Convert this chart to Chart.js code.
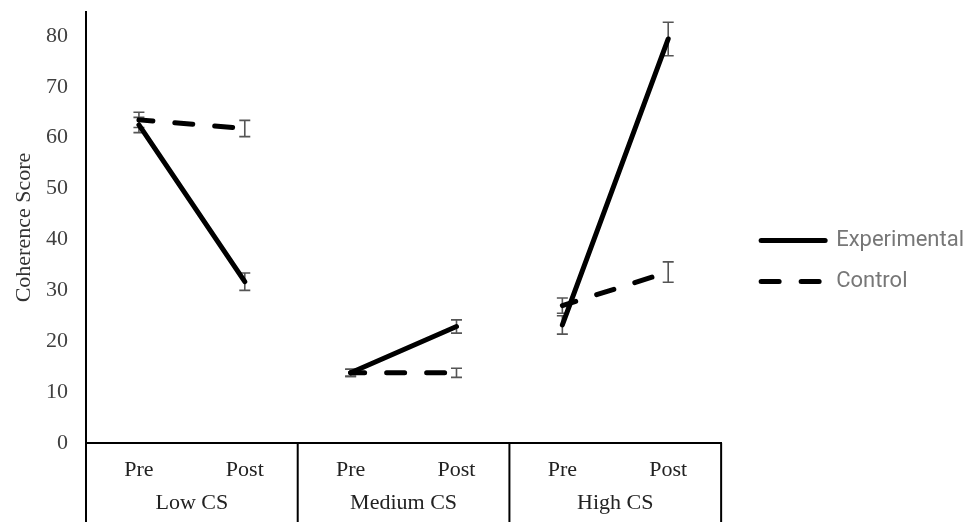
<!DOCTYPE html>
<html>
<head>
<meta charset="utf-8">
<script src="https://cdn.jsdelivr.net/npm/chart.js@4/dist/chart.umd.min.js"></script>
<style>
  html, body { margin: 0; padding: 0; background: #fff; }
  #wrap { width: 976px; height: 522px; }
</style>
</head>
<body>
<div id="wrap"><canvas id="c"></canvas></div>
<script>
// categories
const phases = ["Pre", "Post", "Pre", "Post", "Pre", "Post"];
const groups = ["Low CS", "Medium CS", "High CS"];

// series values
const experimental = [62.5, 31.7, 13.8, 22.9, 23.2, 79.4];
const experimentalErr = [1.5, 1.7, 0.7, 1.3, 1.8, 3.3];
const control = [63.5, 61.8, 13.8, 13.8, 27.0, 33.6];
const controlErr = [1.5, 1.6, 0.7, 0.9, 1.5, 2.0];

// y tick values
const yTicks = [0, 10, 20, 30, 40, 50, 60, 70, 80];

const serif = "'Liberation Serif', 'DejaVu Serif', serif";

// hide the segment that would join two CS groups
const gap = ctx => ctx.p0DataIndex % 2 === 1 ? "rgba(0,0,0,0)" : undefined;

const errorBars = {
  id: "errorBars",
  beforeDatasetsDraw(chart) {
    const { ctx } = chart;
    const x = chart.scales.x, y = chart.scales.y;
    const sets = [[experimental, experimentalErr], [control, controlErr]];
    ctx.save();
    ctx.strokeStyle = "#555";
    ctx.lineWidth = 1.6;
    sets.forEach(([vals, errs]) => {
      vals.forEach((v, i) => {
        const px = x.getPixelForValue(i);
        const top = y.getPixelForValue(v + errs[i]);
        const bot = y.getPixelForValue(v - errs[i]);
        ctx.beginPath();
        ctx.moveTo(px, top); ctx.lineTo(px, bot);
        ctx.moveTo(px - 5.5, top); ctx.lineTo(px + 5.5, top);
        ctx.moveTo(px - 5.5, bot); ctx.lineTo(px + 5.5, bot);
        ctx.stroke();
      });
    });
    ctx.restore();
  }
};

const groupDividers = {
  id: "groupDividers",
  afterDraw(chart) {
    const { ctx, chartArea } = chart;
    const x = chart.scales.x;
    const edges = [x.left];
    for (let g = 1; g < groups.length; g++) {
      edges.push((x.getPixelForValue(g * 2 - 1) + x.getPixelForValue(g * 2)) / 2);
    }
    edges.push(x.right);
    ctx.save();
    ctx.strokeStyle = "#000";
    ctx.lineWidth = 2;
    ctx.beginPath();
    edges.forEach(px => {
      ctx.moveTo(px, chartArea.bottom);
      ctx.lineTo(px, chart.height);
    });
    ctx.stroke();
    ctx.restore();
  }
};

const hidden = {
  display: true,
  grid: { display: false, drawTicks: false },
  border: { display: false },
  ticks: { display: false }
};

new Chart(document.getElementById("c"), {
  type: "line",
  data: {
    labels: phases,
    datasets: [
      {
        label: "Experimental",
        data: experimental,
        borderColor: "#000",
        backgroundColor: "#000",
        borderWidth: 5,
        borderCapStyle: "round",
        pointRadius: 0,
        segment: { borderColor: gap }
      },
      {
        label: "Control",
        data: control,
        borderColor: "#000",
        backgroundColor: "#000",
        borderWidth: 5,
        borderDash: [18, 22],
        borderDashOffset: 4,
        borderCapStyle: "round",
        pointRadius: 0,
        segment: { borderColor: gap }
      }
    ]
  },
  options: {
    responsive: true,
    maintainAspectRatio: false,
    animation: false,
    layout: { padding: { top: 0, right: 2, bottom: 0, left: 0 } },
    plugins: {
      tooltip: { enabled: false },
      legend: {
        position: "right",
        maxWidth: 320,
        labels: {
          usePointStyle: true,
          pointStyle: "line",
          pointStyleWidth: 64,
          boxWidth: 64,
          padding: 19,
          color: "#777",
          font: { family: "Roboto, 'Open Sans', sans-serif", size: 22 },
          generateLabels(chart) {
            const items = Chart.defaults.plugins.legend.labels.generateLabels(chart);
            return items.map(item => {
              const ds = chart.data.datasets[item.datasetIndex];
              return Object.assign(item, {
                lineDash: ds.borderDash || [],
                lineDashOffset: 0,
                lineWidth: ds.borderWidth,
                lineCap: "round",
                strokeStyle: ds.borderColor
              });
            });
          }
        }
      }
    },
    scales: {
      x: {
        type: "category",
        offset: true,
        weight: 0,
        grid: { display: false, drawTicks: false },
        border: { display: true, color: "#000", width: 2 },
        ticks: {
          color: "#222",
          padding: 14,
          maxRotation: 0,
          autoSkip: false,
          font: { family: serif, size: 22 }
        },
        afterFit(s) { s.height = 40; s.paddingLeft = 0; s.paddingRight = 0; }
      },
      x2: {
        type: "category",
        labels: groups,
        offset: true,
        position: "bottom",
        weight: 1,
        grid: { display: false, drawTicks: false },
        border: { display: false },
        ticks: {
          color: "#222",
          padding: 7,
          maxRotation: 0,
          font: { family: serif, size: 22 }
        },
        afterFit(s) { s.height = 39; s.paddingLeft = 0; s.paddingRight = 0; }
      },
      xTop: {
        ...hidden,
        type: "category",
        position: "top",
        afterFit(s) { s.height = 12; s.paddingLeft = 0; s.paddingRight = 0; }
      },
      y: {
        min: 0,
        max: 84.7,
        grid: { display: false, drawTicks: false },
        border: { display: true, color: "#000", width: 2 },
        afterBuildTicks(s) { s.ticks = yTicks.map(v => ({ value: v })); },
        ticks: {
          color: "#404040",
          padding: 18,
          font: { family: serif, size: 22 }
        },
        title: {
          display: true,
          text: "Coherence Score",
          color: "#333",
          padding: { top: 11 },
          font: { family: serif, size: 22 }
        },
        afterFit(s) { s.width = 86; s.paddingTop = 0; s.paddingBottom = 0; }
      },
      yR: {
        ...hidden,
        position: "right",
        afterFit(s) { s.width = 21; s.paddingTop = 0; s.paddingBottom = 0; }
      }
    }
  },
  plugins: [errorBars, groupDividers]
});
</script>
</body>
</html>
